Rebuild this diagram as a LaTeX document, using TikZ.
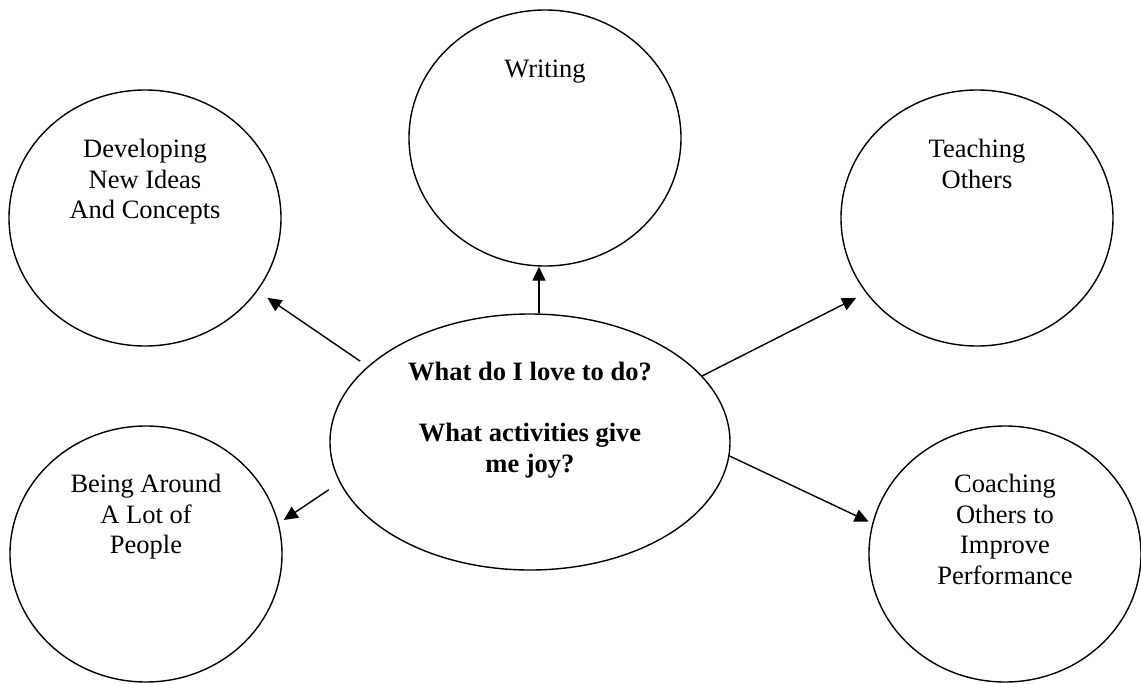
\documentclass[tikz,border=0pt]{standalone}
\usepackage{fontspec}
\setmainfont{Liberation Serif}
\usetikzlibrary{shapes.geometric,arrows.meta}
\newcommand{\lnstrut}{\rule{0pt}{20pt}}
\begin{document}
\begin{tikzpicture}[x=1pt,y=-1pt,
  bub/.style={draw, ellipse, line width=1.4pt, inner sep=0pt, minimum width=272pt, minimum height=256pt},
  lbl/.style={anchor=north, align=center, inner sep=0pt, font=\fontsize{26.5}{30.5}\selectfont},
  arr/.style={line width=1.4pt, -{Triangle[length=14pt,width=13pt]}}]
\useasboundingbox (0,0) rectangle (1141,683);
% bubbles
\node[bub] (wri) at (545,138) {};
\node[bub] (dev) at (145,218) {};
\node[bub] (tea) at (977,218) {};
\node[bub] (bei) at (146,554) {};
\node[bub] (coa) at (1005,554) {};
\node[bub, minimum width=400pt] (ctr) at (530,442) {};
% texts
\node[lbl] (writ) at ([yshift=-48pt]wri.north) {\lnstrut Writing};
\node[lbl] (devt) at ([yshift=-48pt]dev.north) {\lnstrut Developing\\New Ideas\\And Concepts};
\node[lbl] (teat) at ([yshift=-48pt]tea.north) {\lnstrut Teaching\\Others};
\node[lbl] (beit) at ([yshift=-47pt]bei.north) {\lnstrut Being Around\\A Lot of\\People};
\node[lbl] (coat) at ([yshift=-47pt]coa.north) {\lnstrut Coaching\\Others to\\Improve\\Performance};
\node[lbl, font=\fontsize{26.5}{30.5}\selectfont\bfseries] (ctrt) at ([yshift=-47pt]ctr.north)
  {\lnstrut What do I love to do?\\[30.5pt]What activities give\\me joy?};
% arrows
\draw[arr] (ctr.86) -- (ctr.86 |- wri.south);
\draw[arr, shorten <=9pt, shorten >=12pt] (ctr.155) -- (dev.-33);
\draw[arr, shorten <=13pt, shorten >=6pt] (ctr.-168) -- (bei.13);
\draw[arr, shorten >=11pt] (ctr.21) -- (tea.-146);
\draw[arr, shorten >=4pt] (ctr.-4) -- (coa.167);
\end{tikzpicture}
\end{document}
